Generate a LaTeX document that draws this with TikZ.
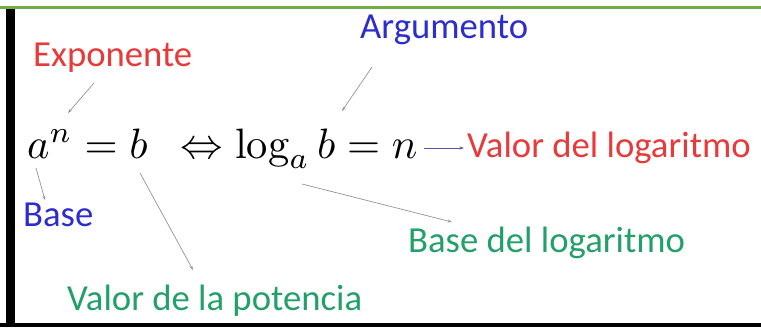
\documentclass[tikz,border=0pt]{standalone}
\usepackage{graphicx}
\usepackage{fontspec}
\newfontfamily\labfont{Carlito}
\usetikzlibrary{arrows.meta}
\definecolor{labred}{RGB}{232,58,58}
\definecolor{labblue}{RGB}{45,45,205}
\definecolor{labgreen}{RGB}{35,160,105}
\definecolor{topgreen}{RGB}{112,173,71}
\begin{document}
\begin{tikzpicture}[x=1pt,y=-1pt,>=Stealth,
  lab/.style={font=\labfont\fontsize{36.7}{40}\selectfont,inner sep=0pt,anchor=base west},
  conn/.style={gray!85,line width=0.7pt,-{Stealth[length=4.5pt,width=3pt]}}]
\useasboundingbox (0,0) rectangle (761,327);
\draw[topgreen,line width=2.5pt] (0,7.3)--(761,7.3);
\fill (6,8.5) rectangle (15,327);
\fill (0,323) rectangle (761,327);
\node[anchor=base west,inner sep=0pt] (eq) at (27,158) {\scalebox{4.25}{$a^n = b\enspace\Leftrightarrow \log_a b = n$}};
\node[lab,labred] (expo) at (33,66) {Exponente};
\node[lab,labblue] (argu) at (360,38) {Argumento};
\node[lab,labred] (vlog) at (467,157) {Valor del logaritmo};
\node[lab,labblue] (base) at (23,226) {Base};
\node[lab,labgreen] (blog) at (408,252) {Base del logaritmo};
\node[lab,labgreen] (vpot) at (67,310) {Valor de la potencia};
\coordinate (expoA) at (94,83);
\coordinate (expoB) at (68,113);
\coordinate (arguA) at (372,67);
\coordinate (arguB) at (342,111);
\coordinate (baseA) at (36,168);
\coordinate (baseB) at (45,200);
\coordinate (vpotA) at (140,173);
\coordinate (vpotB) at (193,270);
\coordinate (blogA) at (302,184);
\coordinate (blogB) at (452,222);
\coordinate (vlogA) at (424,148);
\draw[conn] (expoA)--(expoB);
\draw[conn] (arguA)--(arguB);
\draw[conn] (baseA)--(baseB);
\draw[conn] (vpotA)--(vpotB);
\draw[conn] (blogA)--(blogB);
\draw[conn,labblue!50!gray] (vlogA)--([xshift=-3pt]vlog.west|-vlogA);
\end{tikzpicture}
\end{document}
